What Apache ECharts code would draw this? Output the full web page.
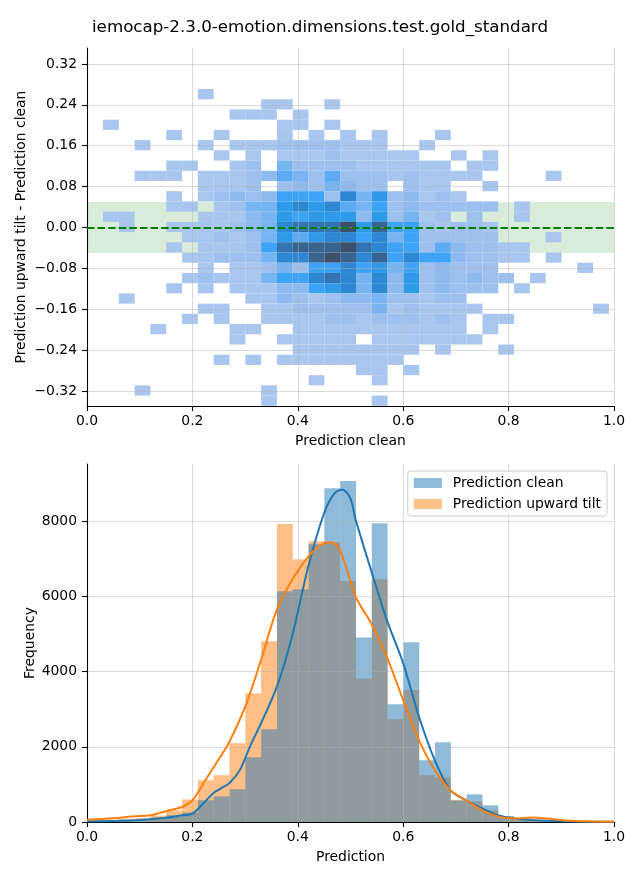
<!DOCTYPE html>
<html><head><meta charset="utf-8">
<script src="https://cdn.jsdelivr.net/npm/echarts@6/dist/echarts.min.js"></script>
<style>html,body{margin:0;padding:0;background:#fff}#c{width:640px;height:880px}</style>
</head><body><div id="c"></div>
<script>
const titleText = 'iemocap-2.3.0-emotion.dimensions.test.gold_standard';

// shared bins (Prediction clean) and difference bins
const xBinStart = 0.0304, xBinWidth = 0.0300;
const yBinStart = -0.349, yBinHeight = 0.02;

// 2D histogram density level per cell, rows from top (diff ~0.26) to bottom (diff ~-0.34), 32 columns each
const heatRows = [
 [0,0,0,0,0,0,1,0,0,0,0,0,0,0,0,0,0,0,0,0,0,0,0,0,0,0,0,0,0,0,0,0],
 [0,0,0,0,0,0,0,0,0,0,1,1,0,0,1,0,0,0,0,0,0,0,0,0,0,0,0,0,0,0,0,0],
 [0,0,0,0,0,0,0,0,1,1,1,0,1,0,0,0,0,0,0,0,0,0,0,0,0,0,0,0,0,0,0,0],
 [1,0,0,0,0,0,0,0,0,0,0,1,1,0,1,0,0,0,0,0,0,0,0,0,0,0,0,0,0,0,0,0],
 [0,0,0,0,1,0,0,1,0,0,0,1,0,1,0,1,0,1,0,0,0,1,0,0,0,0,0,0,0,0,0,0],
 [0,0,1,0,0,0,1,0,1,1,1,2,2,2,2,1,1,1,0,0,1,0,0,0,0,0,0,0,0,0,0,0],
 [0,0,0,0,0,0,0,1,0,1,0,1,1,1,2,1,1,1,1,1,0,0,1,0,1,0,0,0,0,0,0,0],
 [0,0,0,0,1,1,0,0,1,2,0,4,2,2,2,2,1,1,1,1,1,1,0,1,1,0,0,0,0,0,0,0],
 [0,0,1,1,1,0,1,1,1,2,3,5,4,2,5,2,2,2,1,2,1,1,1,1,0,0,0,0,1,0,0,0],
 [0,0,0,0,0,0,1,1,1,2,0,2,3,2,4,3,2,2,0,2,1,1,0,0,1,0,0,0,0,0,0,0],
 [0,0,0,0,1,0,1,2,3,2,3,6,6,6,2,8,4,7,2,3,1,2,1,0,0,0,0,0,0,0,0,0],
 [0,0,0,0,1,1,0,1,2,4,4,7,8,7,8,5,4,6,2,3,2,2,2,2,2,0,1,0,0,0,0,0],
 [1,1,0,0,0,0,1,1,1,3,4,7,6,7,7,7,3,7,2,4,1,2,0,2,0,0,1,0,0,0,0,0],
 [0,1,0,0,1,1,1,1,2,3,4,8,9,9,9,11,7,10,6,6,2,1,2,2,1,0,0,0,0,0,0,0],
 [0,0,0,0,0,1,1,2,1,2,4,7,5,7,8,8,6,8,4,6,2,2,2,2,2,0,0,0,1,0,0,0],
 [0,0,0,0,1,0,1,1,1,2,6,9,10,10,10,11,9,8,6,6,2,5,3,2,2,1,1,0,0,0,0,0],
 [0,0,0,0,0,1,1,2,2,2,4,8,8,10,11,10,8,10,6,8,6,6,3,2,2,1,1,0,1,0,0,0],
 [0,0,0,0,0,0,1,0,1,1,2,4,2,6,6,8,6,7,4,6,2,3,2,2,2,0,0,0,0,0,1,0],
 [0,0,0,0,0,1,2,1,1,1,4,6,6,8,9,8,4,8,3,7,2,3,2,3,2,2,0,1,0,0,0,0],
 [0,0,0,0,1,0,1,0,1,1,1,3,3,6,7,8,4,8,3,7,2,3,2,2,2,0,1,0,0,0,0,0],
 [0,1,0,0,0,0,0,0,0,1,1,3,2,1,2,3,3,4,2,2,1,2,2,0,0,0,0,0,0,0,0,0],
 [0,0,0,0,0,0,1,1,0,0,1,1,2,2,2,2,2,4,1,2,1,1,1,1,0,0,0,0,0,0,0,1],
 [0,0,0,0,0,1,0,1,0,0,1,1,1,1,2,2,1,2,2,2,1,2,1,0,1,1,0,0,0,0,0,0],
 [0,0,0,1,0,0,0,0,1,1,0,0,1,1,1,1,1,1,1,1,1,1,1,0,1,0,0,0,0,0,0,0],
 [0,0,0,0,0,0,0,0,1,0,0,1,1,1,1,1,0,1,1,1,1,1,1,1,0,0,0,0,0,0,0,0],
 [0,0,0,0,0,0,0,0,0,0,0,0,1,1,1,1,1,1,1,1,0,1,0,0,0,1,0,0,0,0,0,0],
 [0,0,0,0,0,0,0,1,0,1,0,1,1,1,1,1,1,1,1,0,0,0,0,0,0,0,0,0,0,0,0,0],
 [0,0,0,0,0,0,0,0,0,0,0,0,0,0,0,0,1,1,0,1,0,0,0,0,0,0,0,0,0,0,0,0],
 [0,0,0,0,0,0,0,0,0,0,0,0,0,1,0,0,0,1,0,0,0,0,0,0,0,0,0,0,0,0,0,0],
 [0,0,1,0,0,0,0,0,0,0,1,0,0,0,0,0,0,0,0,0,0,0,0,0,0,0,0,0,0,0,0,0],
 [0,0,0,0,0,0,0,0,0,0,1,0,0,0,0,0,0,1,0,0,0,0,0,0,0,0,0,0,0,0,0,0]
];

const xTicks = [0, 0.2, 0.4, 0.6, 0.8, 1.0];
const diffTicks = [-0.32, -0.24, -0.16, -0.08, 0, 0.08, 0.16, 0.24, 0.32];
const freqTicks = [0, 2000, 4000, 6000, 8000];

const cleanCounts = [20,30,60,118,180,250,578,684,870,1723,2468,6140,6190,7390,8880,9070,4910,7950,3130,4780,1640,2120,570,735,445,150,50,20,10,5,3,2];
const tiltCounts  = [50,80,100,170,310,600,1110,1243,2095,3426,4811,7925,6990,7470,7440,6410,3820,6460,2730,3510,1245,1190,590,550,310,160,60,40,50,20,10,5];

const kdeCleanX = [0,0.05,0.10,0.15,0.18,0.20,0.221,0.239,0.255,0.27,0.29,0.309,0.33,0.36,0.389,0.42,0.45,0.47,0.485,0.50,0.51,0.539,0.569,0.60,0.63,0.66,0.69,0.72,0.75,0.78,0.81,0.86,0.92,1.0];
const kdeCleanY = [20,25,50,110,178,223,497,760,900,1030,1380,2000,2620,3590,4930,6800,8220,8750,8840,8600,8030,6700,5370,4220,2800,1640,840,570,360,180,90,40,15,5];
const kdeTiltX = [0,0.05,0.09,0.12,0.151,0.18,0.20,0.221,0.239,0.27,0.30,0.33,0.36,0.389,0.42,0.45,0.464,0.48,0.51,0.539,0.569,0.60,0.63,0.66,0.69,0.72,0.75,0.78,0.81,0.846,0.873,0.92,1.0];
const kdeTiltY = [60,100,150,178,293,400,578,1030,1430,2130,3060,4300,5640,6430,7060,7420,7440,7240,5990,5290,4390,3240,2180,1380,840,570,310,150,90,120,90,30,5];

const levelColors = ['#a9c7ee','#9dc0ef','#8ebaf0','#77b4f2','#5eabf4','#3ca3f6','#2e9ae8','#2e87d2','#3474b2','#39638f','#3d4f6b'];

const FONT = 'DejaVu Sans';
const heatData = [];
heatRows.forEach((row, i) => {
  const j = heatRows.length - 1 - i;
  row.forEach((lv, c) => { if (lv > 0) heatData.push([xBinStart + c * xBinWidth, yBinStart + j * yBinHeight, lv]); });
});
const cleanData = cleanCounts.map((v, i) => [xBinStart + i * xBinWidth, v]);
const tiltData = tiltCounts.map((v, i) => [xBinStart + i * xBinWidth, v]);
const kdeClean = kdeCleanX.map((x, i) => [x, kdeCleanY[i]]);
const kdeTilt = kdeTiltX.map((x, i) => [x, kdeTiltY[i]]);

function fmtMinus(s) { return s.replace('-', '\u2212'); }

function heatItem(params, api) {
  const x0 = api.value(0), y0 = api.value(1), lv = api.value(2);
  const a = api.coord([x0, y0]), b = api.coord([x0 + xBinWidth, y0 + yBinHeight]);
  return { type: 'rect', shape: { x: a[0], y: b[1], width: b[0] - a[0], height: a[1] - b[1] },
    style: { fill: levelColors[lv - 1] } };
}
function barMaker(fill) {
  return function (params, api) {
    const x0 = api.value(0), v = api.value(1);
    const a = api.coord([x0, 0]), b = api.coord([x0 + xBinWidth, v]);
    return { type: 'rect', shape: { x: a[0], y: b[1], width: b[0] - a[0], height: a[1] - b[1] },
      style: { fill: fill } };
  };
}

const axisCommon = {
  axisLine: { show: true, onZero: false, lineStyle: { color: '#000', width: 1.1 } },
  axisTick: { show: true, length: 5, lineStyle: { color: '#000', width: 1.1 } },
  splitLine: { show: true, lineStyle: { color: 'rgba(176,176,176,0.45)', width: 1 } },
  nameTextStyle: { fontFamily: FONT, fontSize: 13.9, color: '#000' },
  nameMoveOverlap: false,
  z: 3
};
const labelCommon = { fontFamily: FONT, fontSize: 13.9, color: '#000' };

const chart = echarts.init(document.getElementById('c'), null, { renderer: 'canvas' });
chart.setOption({
  animation: false,
  backgroundColor: '#fff',
  title: { text: titleText, left: 'center', top: 19, padding: 0,
    textStyle: { fontFamily: FONT, fontSize: 16.7, fontWeight: 'normal', color: '#000' } },
  legend: {
    data: ['Prediction clean', 'Prediction upward tilt'],
    orient: 'vertical', right: 33, top: 471, icon: 'rect',
    itemWidth: 28, itemHeight: 10, itemGap: 7,
    padding: [5, 6, 5, 6],
    backgroundColor: 'rgba(255,255,255,0.8)', borderColor: '#cccccc', borderWidth: 1, borderRadius: 3,
    textStyle: { fontFamily: FONT, fontSize: 13.9, color: '#000', padding: [0, 0, 0, 6] }
  },
  grid: [
    { left: 87, top: 48, width: 527, height: 358 },
    { left: 87, top: 464, width: 527, height: 358 }
  ],
  xAxis: [
    Object.assign({}, axisCommon, { type: 'value', gridIndex: 0, min: 0, max: 1, interval: 0.2,
      name: 'Prediction clean', nameLocation: 'middle', nameGap: 28,
      axisLabel: Object.assign({}, labelCommon, { margin: 8, formatter: v => v.toFixed(1) }) }),
    Object.assign({}, axisCommon, { type: 'value', gridIndex: 1, min: 0, max: 1, interval: 0.2,
      name: 'Prediction', nameLocation: 'middle', nameGap: 28,
      axisLabel: Object.assign({}, labelCommon, { margin: 8, formatter: v => v.toFixed(1) }) })
  ],
  yAxis: [
    Object.assign({}, axisCommon, { type: 'value', gridIndex: 0, min: -0.3494, max: 0.3513,
      name: 'Prediction upward tilt - Prediction clean', nameLocation: 'middle', nameGap: 59,
      axisTick: Object.assign({}, axisCommon.axisTick, { customValues: diffTicks }),
      axisLabel: Object.assign({}, labelCommon, { margin: 10, customValues: diffTicks,
        formatter: v => fmtMinus(Number(v).toFixed(2)) }) }),
    Object.assign({}, axisCommon, { type: 'value', gridIndex: 1, min: 0, max: 9523,
      name: 'Frequency', nameLocation: 'middle', nameGap: 50,
      axisTick: Object.assign({}, axisCommon.axisTick, { customValues: freqTicks }),
      axisLabel: Object.assign({}, labelCommon, { margin: 10, customValues: freqTicks,
        formatter: v => String(Math.round(v)) }) })
  ],
  series: [
    { type: 'line', xAxisIndex: 0, yAxisIndex: 0, data: [], z: 1, silent: true,
      markArea: { silent: true, itemStyle: { color: 'rgba(0,128,0,0.15)' },
        data: [[{ yAxis: -0.05 }, { yAxis: 0.05 }]] } },
    { type: 'custom', name: 'heat', xAxisIndex: 0, yAxisIndex: 0, data: heatData,
      renderItem: heatItem, z: 2, silent: true, clip: true, encode: { x: 0, y: 1 } },
    { type: 'line', xAxisIndex: 0, yAxisIndex: 0, data: [], z: 5, silent: true,
      markLine: { silent: true, symbol: ['none', 'none'], label: { show: false },
        lineStyle: { color: '#008000', width: 2, type: [7.4, 3.2] },
        data: [{ yAxis: 0 }] } },
    { type: 'custom', name: 'Prediction upward tilt', xAxisIndex: 1, yAxisIndex: 1, data: tiltData,
      renderItem: barMaker('rgba(255,127,14,0.5)'), itemStyle: { color: 'rgba(255,127,14,0.5)' },
      z: 2, silent: true, clip: true, encode: { x: 0, y: 1 } },
    { type: 'custom', name: 'Prediction clean', xAxisIndex: 1, yAxisIndex: 1, data: cleanData,
      renderItem: barMaker('rgba(31,119,180,0.5)'), itemStyle: { color: 'rgba(31,119,180,0.5)' },
      z: 2, silent: true, clip: true, encode: { x: 0, y: 1 } },
    { type: 'line', name: 'kde clean', xAxisIndex: 1, yAxisIndex: 1, data: kdeClean, smooth: 0.3,
      showSymbol: false, lineStyle: { color: '#1f77b4', width: 2 }, itemStyle: { color: '#1f77b4' }, z: 5, silent: true },
    { type: 'line', name: 'kde tilt', xAxisIndex: 1, yAxisIndex: 1, data: kdeTilt, smooth: 0.3,
      showSymbol: false, lineStyle: { color: '#ff7f0e', width: 2 }, itemStyle: { color: '#ff7f0e' }, z: 5, silent: true }
  ]
});
</script></body></html>
